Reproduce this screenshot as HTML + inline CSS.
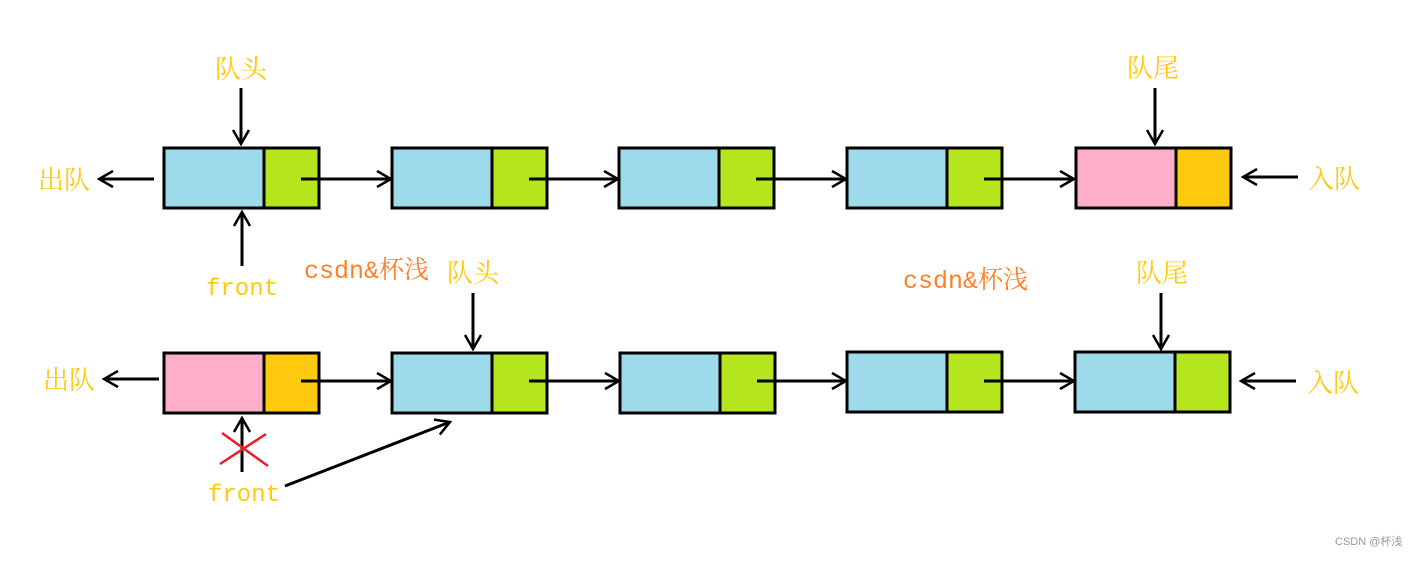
<!DOCTYPE html>
<html><head><meta charset="utf-8"><style>
body{margin:0;background:#fff}
svg text{font-family:"Liberation Mono","Noto Serif CJK SC",monospace}
</style></head><body>
<svg width="1418" height="556" viewBox="0 0 1418 556" xmlns="http://www.w3.org/2000/svg">
<defs>
<marker id="a" viewBox="0 0 20 20" refX="18" refY="10" markerWidth="20" markerHeight="20" markerUnits="userSpaceOnUse" orient="auto">
<path d="M4 2 L18 10 L4 18" fill="none" stroke="#000" stroke-width="2.5"/>
</marker>
</defs>
<g stroke="#000" stroke-width="3">
<rect x="164" y="148" width="100" height="60" fill="#9ddaea"/><rect x="264" y="148" width="55" height="60" fill="#b5e61d"/>
<rect x="392" y="148" width="100" height="60" fill="#9ddaea"/><rect x="492" y="148" width="55" height="60" fill="#b5e61d"/>
<rect x="619" y="148" width="100" height="60" fill="#9ddaea"/><rect x="719" y="148" width="55" height="60" fill="#b5e61d"/>
<rect x="847" y="148" width="100" height="60" fill="#9ddaea"/><rect x="947" y="148" width="55" height="60" fill="#b5e61d"/>
<rect x="1076" y="148" width="100" height="60" fill="#ffaec9"/><rect x="1176" y="148" width="55" height="60" fill="#ffc90e"/>
<rect x="164" y="353" width="100" height="60" fill="#ffaec9"/><rect x="264" y="353" width="55" height="60" fill="#ffc90e"/>
<rect x="392" y="353" width="100" height="60" fill="#9ddaea"/><rect x="492" y="353" width="55" height="60" fill="#b5e61d"/>
<rect x="620" y="353" width="100" height="60" fill="#9ddaea"/><rect x="720" y="353" width="55" height="60" fill="#b5e61d"/>
<rect x="847" y="352" width="100" height="60" fill="#9ddaea"/><rect x="947" y="352" width="55" height="60" fill="#b5e61d"/>
<rect x="1075" y="352" width="100" height="60" fill="#9ddaea"/><rect x="1175" y="352" width="55" height="60" fill="#b5e61d"/>
</g>
<g stroke="#000" stroke-width="3" marker-end="url(#a)" fill="none">
<line x1="301" y1="179" x2="391" y2="179"/>
<line x1="529" y1="179" x2="618" y2="179"/>
<line x1="756" y1="179" x2="846" y2="179"/>
<line x1="984" y1="179" x2="1074" y2="179"/>
<line x1="154" y1="179" x2="99" y2="179"/>
<line x1="1298" y1="177" x2="1243" y2="177"/>
<line x1="241" y1="88" x2="241" y2="144"/>
<line x1="1155" y1="88" x2="1155" y2="144"/>
<line x1="242" y1="266" x2="242" y2="212"/>
<line x1="301" y1="381" x2="391" y2="381"/>
<line x1="529" y1="381" x2="619" y2="381"/>
<line x1="757" y1="381" x2="846" y2="381"/>
<line x1="984" y1="381" x2="1074" y2="381"/>
<line x1="159" y1="379" x2="104" y2="379"/>
<line x1="1296" y1="381" x2="1241" y2="381"/>
<line x1="473" y1="293" x2="473" y2="349"/>
<line x1="1161" y1="293" x2="1161" y2="349"/>
<line x1="242" y1="472" x2="242" y2="418"/>
<line x1="285" y1="486" x2="450" y2="422"/>
</g>
<g stroke="#ed1c24" stroke-width="2.5">
<line x1="222" y1="433" x2="268" y2="466"/><line x1="266" y1="434" x2="220" y2="464"/>
</g>
<g fill="#ffc90e" font-size="26">
<text x="215" y="78">队头</text>
<text x="1127" y="77">队尾</text>
<text x="38" y="189">出队</text>
<text x="1308" y="188">入队</text>
<text x="206" y="295" font-size="24">front</text>
<text x="447" y="282">队头</text>
<text x="1136" y="282">队尾</text>
<text x="43" y="389">出队</text>
<text x="1307" y="392">入队</text>
<text x="208" y="501" font-size="24">front</text>
</g>
<g fill="#ff7f27" font-size="25">
<text x="304" y="278">csdn&amp;杯浅</text>
<text x="903" y="288">csdn&amp;杯浅</text>
</g>
<text x="1335" y="545" font-size="11" fill="#999" style="font-family:'Liberation Sans','Noto Sans CJK SC',sans-serif">CSDN @杯浅</text>
</svg>
</body></html>
